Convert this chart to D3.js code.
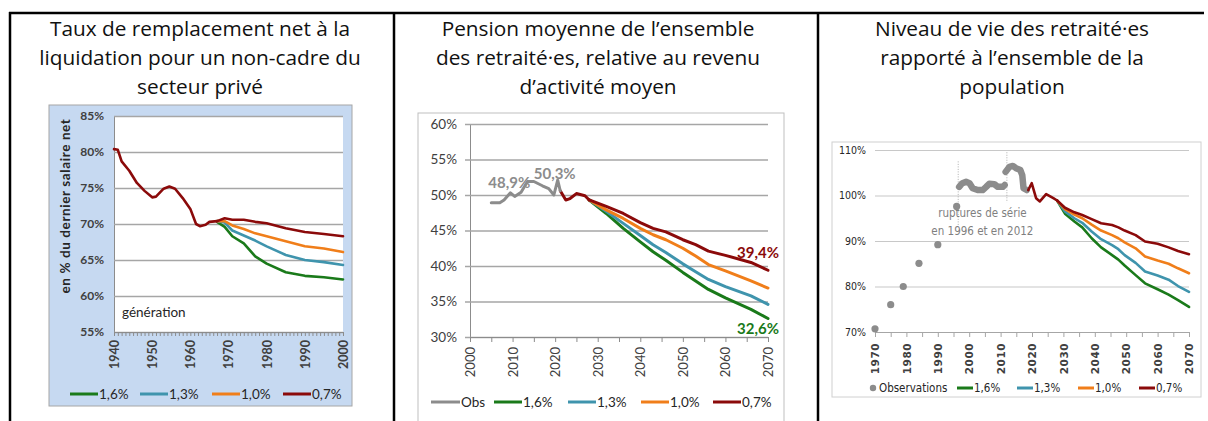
<!DOCTYPE html>
<html>
<head>
<meta charset="utf-8">
<script src="https://cdn.jsdelivr.net/npm/d3@7"></script>
<style>
  body { margin: 0; background: #fff; }
  svg text { font-family: Lato, "Open Sans", sans-serif; }
  .narrow { font-family: "Liberation Sans Narrow", "DejaVu Sans Condensed", sans-serif !important; }
</style>
</head>
<body>
<div id="chart"></div>
<script>
// ---------- data ----------
var scenarioNames = ["1,6%", "1,3%", "1,0%", "0,7%"];
var scenarioColors = ["#1a7a1a", "#3f94ad", "#f07e1a", "#8b0a0a"];
var obsColor = "#8c8c8c";

// panel 1 : taux de remplacement net par génération
var p1HistYears = [1940, 1941, 1942, 1944, 1946, 1948, 1950, 1951, 1953, 1954.5, 1956, 1958, 1960, 1961.5, 1962.5, 1964, 1965, 1967];
var p1HistValues = [80.4, 80.3, 78.7, 77.4, 75.7, 74.6, 73.7, 73.8, 74.9, 75.2, 74.9, 73.6, 72.1, 70.0, 69.7, 69.9, 70.3, 70.4];
var p1Years = [1967, 1969, 1971, 1974, 1977, 1980, 1985, 1990, 1995, 2000];
var p1Green = [70.3, 69.6, 68.3, 67.3, 65.5, 64.5, 63.3, 62.8, 62.6, 62.3];
var p1Blue = [70.4, 70.2, 69.1, 68.4, 67.7, 66.9, 65.7, 65.0, 64.7, 64.3];
var p1Orange = [70.4, 70.4, 69.8, 69.3, 68.7, 68.3, 67.6, 66.9, 66.6, 66.1];
var p1Red = [70.4, 70.8, 70.6, 70.6, 70.3, 70.1, 69.4, 68.9, 68.6, 68.3];
var p1YTicks = [55, 60, 65, 70, 75, 80, 85];

// panel 2 : pension moyenne / revenu d'activité moyen
var p2ObsYears = [2005, 2007, 2008, 2009.5, 2010.5, 2012, 2013.5, 2015, 2017, 2018.5, 2019.7, 2020.6, 2021.2];
var p2ObsValues = [48.9, 48.9, 49.3, 50.3, 49.8, 50.4, 51.9, 51.9, 51.3, 50.9, 50.0, 52.1, 50.6];
var p2TrunkYears = [2021.2, 2022.5, 2023.5, 2025, 2027, 2028];
var p2TrunkValues = [50.6, 49.3, 49.5, 50.2, 49.9, 49.3];
var p2Years = [2028, 2032, 2036, 2040, 2043, 2046, 2050, 2053, 2056, 2060, 2066, 2070];
var p2Green = [49.3, 47.4, 45.3, 43.4, 42.0, 40.8, 39.1, 37.9, 36.7, 35.5, 33.9, 32.6];
var p2Blue = [49.3, 47.7, 46.0, 44.3, 43.0, 41.9, 40.3, 39.2, 38.1, 37.1, 35.8, 34.6];
var p2Orange = [49.3, 47.9, 46.7, 45.3, 44.4, 43.7, 42.5, 41.4, 40.2, 39.3, 37.9, 36.9];
var p2Red = [49.3, 48.4, 47.4, 46.1, 45.3, 44.8, 43.7, 43.0, 42.1, 41.5, 40.5, 39.4];
var p2YTicks = [30, 35, 40, 45, 50, 55, 60];

// panel 3 : niveau de vie des retraité·es / ensemble de la population
var p3DotYears = [1970, 1975, 1979, 1984, 1990, 1996];
var p3DotValues = [70.7, 76.0, 80.0, 85.1, 89.2, 97.6];
var p3Run1Years = [1996.8, 1997.8, 1999, 2000.1, 2001.1, 2002.7, 2004.3, 2005.4, 2006.4, 2008, 2009.1, 2010.7, 2011.3];
var p3Run1Values = [101.9, 102.7, 103.0, 102.7, 101.6, 101.2, 101.2, 101.9, 102.6, 102.5, 101.9, 101.9, 102.3];
var p3Run2Years = [2011.6, 2012.8, 2013.9, 2014.9, 2016.3, 2016.9, 2017.3, 2018.3];
var p3Run2Values = [105.2, 106.3, 106.5, 106.0, 105.6, 104.5, 101.6, 101.2];
var p3TrunkYears = [2018.8, 2019.9, 2021.3, 2022.5, 2024.5, 2026.8, 2028];
var p3TrunkValues = [101.2, 102.7, 99.4, 98.7, 100.3, 99.4, 98.9];
var p3Years = [2028, 2030.5, 2033.5, 2036, 2039, 2042, 2045.5, 2047.5, 2049.5, 2053, 2056, 2060, 2063.5, 2066.5, 2070];
var p3Green = [98.9, 96.0, 94.3, 93.0, 90.6, 88.6, 86.9, 85.9, 84.6, 82.5, 80.7, 79.4, 78.2, 77.0, 75.5];
var p3Blue = [98.9, 96.5, 95.0, 94.0, 92.1, 90.4, 89.1, 88.2, 86.9, 85.2, 83.3, 82.4, 81.5, 80.1, 78.8];
var p3Orange = [98.9, 97.0, 95.8, 95.0, 93.6, 92.3, 91.3, 90.6, 89.7, 88.4, 86.6, 85.7, 85.0, 84.0, 82.9];
var p3Red = [98.9, 97.3, 96.3, 95.7, 94.8, 93.9, 93.5, 93.0, 92.3, 91.3, 89.9, 89.4, 88.6, 87.8, 87.1];
var p3YTicks = [70, 80, 90, 100, 110];
var p3Ruptures = [1996.5, 2012];

var titles = [
  ["Taux de remplacement net à la", "liquidation pour un non-cadre du", "secteur privé"],
  ["Pension moyenne de l\u2019ensemble", "des retraité\u00b7es, relative au revenu", "d\u2019activité moyen"],
  ["Niveau de vie des retraité\u00b7es", "rapporté à l\u2019ensemble de la", "population"]
];

// ---------- page ----------
var W = 1208, H = 421;
var svg = d3.select("#chart").append("svg")
    .attr("width", W).attr("height", H);

// table borders
svg.append("line").attr("x1", 9).attr("x2", 1204).attr("y1", 13).attr("y2", 13)
    .attr("stroke", "#000").attr("stroke-width", 2.5);
[10, 394, 818].forEach(function(x) {
  svg.append("line").attr("x1", x).attr("x2", x).attr("y1", 12).attr("y2", H)
      .attr("stroke", "#000").attr("stroke-width", 2.5);
});

// titles
var titleCenters = [200, 598, 1012];
titles.forEach(function(lines, i) {
  lines.forEach(function(t, j) {
    svg.append("text")
        .attr("x", titleCenters[i]).attr("y", 36 + j * 29)
        .attr("text-anchor", "middle")
        .style("font-family", "'Open Sans', sans-serif")
        .style("font-size", "20.8px").style("fill", "#111")
        .text(t);
  });
});

function toPts(xs, ys) {
  return xs.map(function(d, i) { return [d, ys[i]]; });
}

function drawLine(g, x, y, pts, color, w) {
  g.append("path")
      .datum(pts)
      .attr("fill", "none")
      .attr("stroke", color)
      .attr("stroke-width", w)
      .attr("stroke-linejoin", "round")
      .attr("stroke-linecap", "round")
      .attr("d", d3.line().x(function(d) { return x(d[0]); }).y(function(d) { return y(d[1]); }));
}

function legendItem(g, x0, y0, len, color, label, size, cls, marker) {
  if (marker === "dot") {
    g.append("circle").attr("cx", x0 + len / 2).attr("cy", y0).attr("r", 3.2).attr("fill", color);
  } else {
    g.append("line").attr("x1", x0).attr("x2", x0 + len).attr("y1", y0).attr("y2", y0)
        .attr("stroke", color).attr("stroke-width", 3);
  }
  g.append("text").attr("x", x0 + len + 1).attr("y", y0).attr("dy", "0.35em")
      .attr("class", cls || null)
      .style("font-size", size + "px").style("fill", "#262626")
      .text(label);
}

// ---------- panel 1 ----------
var g1 = svg.append("g");
g1.append("rect").attr("x", 49).attr("y", 105).attr("width", 303).attr("height", 301)
    .attr("fill", "#c6d9f1").attr("stroke", "#a6a6a6");

var x1 = d3.scaleLinear().domain([1940, 2000]).range([114, 343]);
var y1 = d3.scaleLinear().domain([55, 85]).range([332, 116]);

g1.append("rect").attr("x", x1(1940)).attr("y", y1(85))
    .attr("width", x1(2000) - x1(1940)).attr("height", y1(55) - y1(85)).attr("fill", "#fff");

var y1Axis = g1.append("g")
    .attr("transform", "translate(" + x1(1940) + ",0)")
    .call(d3.axisLeft(y1).tickValues(p1YTicks).tickSize(-(x1(2000) - x1(1940))).tickPadding(10)
        .tickFormat(function(d) { return d + "%"; }));
y1Axis.select(".domain").attr("stroke", "#8c8c8c");
y1Axis.selectAll(".tick line").attr("stroke", "#a6a6a6").attr("stroke-width", 1.3);
y1Axis.selectAll("text").style("font-size", "12px").style("font-weight", "bold").style("fill", "#404040")
    .style("font-family", "Lato, sans-serif");

var x1Axis = g1.append("g")
    .attr("transform", "translate(0," + y1(55) + ")")
    .call(d3.axisBottom(x1).tickValues(d3.range(1940, 2001, 1)).tickSize(4)
        .tickFormat(function(d) { return d % 10 === 0 ? d : ""; }));
x1Axis.select(".domain").attr("stroke", "#8c8c8c");
x1Axis.selectAll(".tick line").attr("stroke", "#8c8c8c");
x1Axis.selectAll("text")
    .attr("transform", "rotate(-90)").attr("text-anchor", "end")
    .attr("x", -8).attr("y", 0).attr("dy", "0.35em")
    .style("font-size", "12.5px").style("font-weight", "bold").style("fill", "#404040")
    .style("font-family", "Lato, sans-serif");

g1.append("text")
    .attr("transform", "translate(65," + 206 + ") rotate(-90)")
    .attr("text-anchor", "middle").attr("dy", "0.35em")
    .style("font-size", "13.5px").style("font-weight", "bold").style("fill", "#262626")
    .style("letter-spacing", "0.6px")
    .text("en % du dernier salaire net");
g1.append("text").attr("x", 122).attr("y", 312).attr("dy", "0.35em")
    .style("font-size", "13.5px").style("fill", "#262626").text("génération");

[p1Green, p1Blue, p1Orange, p1Red].forEach(function(vals, i) {
  drawLine(g1, x1, y1, toPts(p1Years, vals), scenarioColors[i], 2.6);
});
drawLine(g1, x1, y1, toPts(p1HistYears, p1HistValues), scenarioColors[3], 2.6);

var leg1X = [70, 140, 212, 283];
scenarioNames.forEach(function(n, i) {
  legendItem(g1, leg1X[i], 394, 28, scenarioColors[i], n, 13.5);
});

// ---------- panel 2 ----------
var g2 = svg.append("g");
g2.append("rect").attr("x", 418).attr("y", 113).attr("width", 366).attr("height", 330)
    .attr("fill", "#fff").attr("stroke", "#bfbfbf");

var x2 = d3.scaleLinear().domain([2000, 2070]).range([470, 768]);
var y2 = d3.scaleLinear().domain([30, 60]).range([337, 124]);

var y2Axis = g2.append("g")
    .attr("transform", "translate(" + x2(2000) + ",0)")
    .call(d3.axisLeft(y2).tickValues(p2YTicks).tickSizeInner(-(x2(2070) - x2(2000) + 5)).tickSizeOuter(0)
        .tickPadding(13).tickFormat(function(d) { return d + "%"; }));
y2Axis.selectAll(".tick line").attr("transform", "translate(-5,0)").attr("stroke", "#a6a6a6").attr("stroke-width", 1.3);
y2Axis.select(".domain").attr("stroke", "#8c8c8c");
y2Axis.selectAll("text").style("font-size", "13.5px").style("fill", "#404040").style("font-family", "Lato, sans-serif");

var x2Axis = g2.append("g")
    .attr("transform", "translate(0," + y2(30) + ")")
    .call(d3.axisBottom(x2).tickValues(d3.range(2000, 2071, 5)).tickSize(5).tickSizeOuter(0)
        .tickFormat(function(d) { return d % 10 === 0 ? d : ""; }));
x2Axis.select(".domain").attr("stroke", "#8c8c8c");
x2Axis.selectAll(".tick line").attr("stroke", "#8c8c8c");
x2Axis.selectAll("text")
    .attr("transform", "rotate(-90)").attr("text-anchor", "end")
    .attr("x", -10).attr("y", 0).attr("dy", "0.35em")
    .style("font-size", "13px").style("fill", "#404040").style("font-family", "Lato, sans-serif");

[p2Green, p2Blue, p2Orange, p2Red].forEach(function(vals, i) {
  drawLine(g2, x2, y2, toPts(p2Years, vals), scenarioColors[i], 3);
});
drawLine(g2, x2, y2, toPts(p2TrunkYears, p2TrunkValues), scenarioColors[3], 3);
drawLine(g2, x2, y2, toPts(p2ObsYears, p2ObsValues), obsColor, 3);

// value labels
function valueLabel(g, x, y, year, val, text, color, dx, dy) {
  g.append("text")
      .attr("x", x(year) + dx).attr("y", y(val) + dy)
      .attr("text-anchor", "middle").attr("dy", "0.35em")
      .style("font-size", "15px").style("font-weight", "bold").style("fill", color)
      .text(text);
}
valueLabel(g2, x2, y2, 2005, 48.9, "48,9%", obsColor, 18, -20);
valueLabel(g2, x2, y2, 2020.6, 52.1, "50,3%", obsColor, -3, -6);
valueLabel(g2, x2, y2, 2070, 39.4, "39,4%", scenarioColors[3], -10, -18);
valueLabel(g2, x2, y2, 2070, 32.6, "32,6%", scenarioColors[0], -10, 10);

var leg2X = [431, 494, 568, 641, 713];
legendItem(g2, leg2X[0], 402, 29, obsColor, "Obs", 13.5);
scenarioNames.forEach(function(n, i) {
  legendItem(g2, leg2X[i + 1], 402, 28, scenarioColors[i], n, 13.5);
});

// ---------- panel 3 ----------
var g3 = svg.append("g");
g3.append("rect").attr("x", 832).attr("y", 142).attr("width", 369).attr("height", 255)
    .attr("fill", "#fff").attr("stroke", "#d0d0d0");

var x3 = d3.scaleLinear().domain([1970, 2070]).range([875, 1189]);
var y3 = d3.scaleLinear().domain([70, 110]).range([332, 150]);

var y3Axis = g3.append("g")
    .attr("transform", "translate(" + x3(1970) + ",0)")
    .call(d3.axisLeft(y3).tickValues(p3YTicks).tickSize(-(x3(2070) - x3(1970))).tickPadding(9)
        .tickFormat(function(d) { return d + "%"; }));
y3Axis.select(".domain").remove();
y3Axis.selectAll(".tick line").attr("stroke", "#c8c8c8").attr("stroke-width", 1.2);
y3Axis.selectAll("text").attr("class", "narrow").style("font-size", "10.5px").style("fill", "#262626");

var x3Axis = g3.append("g")
    .attr("transform", "translate(0," + y3(70) + ")")
    .call(d3.axisBottom(x3).tickValues(d3.range(1970, 2071, 5)).tickSize(5).tickSizeOuter(0)
        .tickFormat(function(d) { return d % 10 === 0 ? d : ""; }));
x3Axis.select(".domain").attr("stroke", "#a6a6a6");
x3Axis.selectAll(".tick line").attr("stroke", "#a6a6a6");
x3Axis.selectAll("text")
    .attr("transform", "rotate(-90)").attr("text-anchor", "end")
    .attr("x", -11).attr("y", 0).attr("dy", "0.35em")
    .style("font-size", "10.5px").style("font-weight", "bold").style("fill", "#404040")
    .style("font-family", "'DejaVu Sans', sans-serif").style("letter-spacing", "0.5px");

// rupture markers
p3Ruptures.forEach(function(yr, i) {
  g3.append("line")
      .attr("x1", x3(yr)).attr("x2", x3(yr))
      .attr("y1", i === 0 ? y3(107.5) : y3(109.5))
      .attr("y2", i === 0 ? y3(93.2) : y3(98.5))
      .attr("stroke", "#9a9a9a").attr("stroke-width", 0.8).attr("stroke-dasharray", "1,1.5");
});
g3.append("text").attr("class", "narrow").attr("x", x3(2004.2)).attr("y", 213).attr("dy", "0.35em")
    .attr("text-anchor", "middle").style("font-size", "11.5px").style("fill", "#7f7f7f")
    .text("ruptures de série");
g3.append("text").attr("class", "narrow").attr("x", x3(2004.2)).attr("y", 231).attr("dy", "0.35em")
    .attr("text-anchor", "middle").style("font-size", "11.5px").style("fill", "#7f7f7f")
    .text("en 1996 et en 2012");

// observations
g3.selectAll(".obsdot")
    .data(toPts(p3DotYears, p3DotValues))
    .enter().append("circle")
    .attr("class", "obsdot")
    .attr("cx", function(d) { return x3(d[0]); })
    .attr("cy", function(d) { return y3(d[1]); })
    .attr("r", 3.6)
    .attr("fill", obsColor);
drawLine(g3, x3, y3, toPts(p3Run1Years, p3Run1Values), obsColor, 6.5);
drawLine(g3, x3, y3, toPts(p3Run2Years, p3Run2Values), obsColor, 6.5);

[p3Green, p3Blue, p3Orange, p3Red].forEach(function(vals, i) {
  drawLine(g3, x3, y3, toPts(p3Years, vals), scenarioColors[i], 2.6);
});
drawLine(g3, x3, y3, toPts(p3TrunkYears, p3TrunkValues), scenarioColors[3], 2.6);

var leg3X = [868, 957, 1017, 1078, 1139];
legendItem(g3, leg3X[0], 388, 10, obsColor, "  Observations", 11.5, "narrow", "dot");
scenarioNames.forEach(function(n, i) {
  legendItem(g3, leg3X[i + 1], 388, 16, scenarioColors[i], n, 11.5, "narrow");
});
</script>
</body>
</html>
